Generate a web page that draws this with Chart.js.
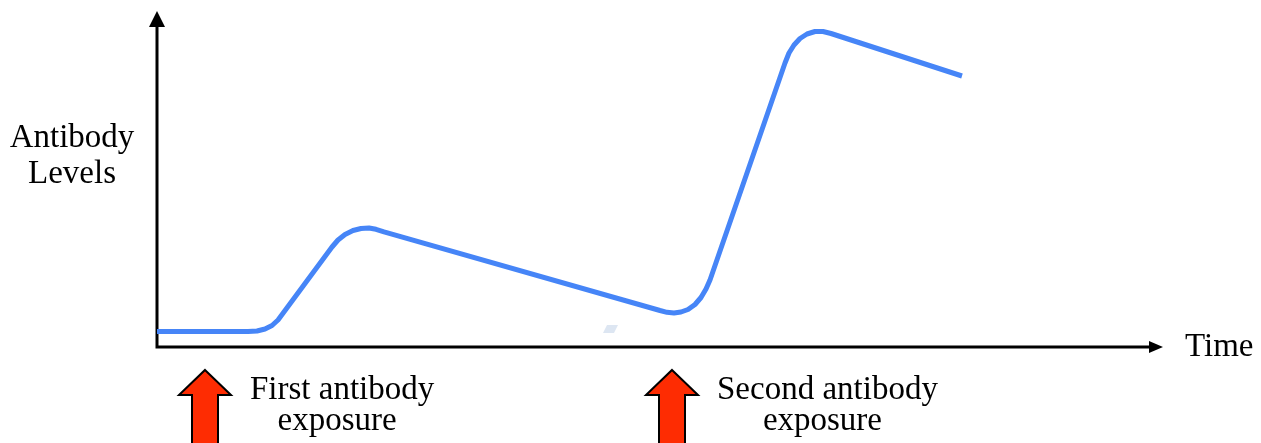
<!DOCTYPE html>
<html>
<head>
<meta charset="utf-8">
<script src="https://cdn.jsdelivr.net/npm/chart.js@4/dist/chart.umd.min.js"></script>
<style>
  html, body { margin: 0; padding: 0; background: #ffffff; }
  #wrap { width: 1261px; height: 443px; position: relative; }
</style>
</head>
<body>
<div id="wrap"><canvas id="c" width="1261" height="443"></canvas></div>
<script>
// Data (arbitrary units)
const timeValues  = [0, 91, 100, 108, 115, 121, 175, 181, 188, 196, 204, 212, 219, 227, 503, 510, 517, 524, 531, 538, 544, 549, 553, 628, 632, 637, 643, 650, 658, 666, 674, 805];
const levelValues = [15.5, 15.5, 16, 18, 21.5, 27, 100, 107, 112.5, 116.5, 118.5, 119, 117.7, 115.2, 36.5, 34.7, 34, 35, 37.5, 42.5, 49.5, 58, 67, 284, 294, 302, 308.5, 313, 315.5, 315.5, 313.5, 271];
const exposureTimes = [48, 515];
const exposureLabels = [["First antibody", "exposure"], ["Second antibody", "exposure"]];
const yAxisTitle = ["Antibody", "Levels"];
const xAxisTitle = "Time";

const FONT = '33px "Liberation Serif", "DejaVu Serif", serif';

const decorPlugin = {
  id: 'decor',
  beforeDatasetsDraw(chart) {
    const ctx = chart.ctx;
    const a = chart.chartArea;
    ctx.save();
    // axes
    ctx.strokeStyle = '#000';
    ctx.fillStyle = '#000';
    ctx.lineWidth = 3;
    ctx.lineCap = 'butt';
    ctx.beginPath();
    ctx.moveTo(a.left, a.bottom + 1.5);
    ctx.lineTo(a.left, a.top + 8);
    ctx.moveTo(a.left - 1.5, a.bottom);
    ctx.lineTo(a.right - 5, a.bottom);
    ctx.stroke();
    // y arrowhead
    ctx.beginPath();
    ctx.moveTo(a.left, a.top - 6);
    ctx.lineTo(a.left - 8, a.top + 10);
    ctx.lineTo(a.left + 8, a.top + 10);
    ctx.closePath();
    ctx.fill();
    // x arrowhead
    ctx.beginPath();
    ctx.moveTo(a.right + 6, a.bottom);
    ctx.lineTo(a.right - 8, a.bottom - 6);
    ctx.lineTo(a.right - 8, a.bottom + 6);
    ctx.closePath();
    ctx.fill();
    // small artifact
    ctx.fillStyle = '#dde6f2';
    ctx.beginPath();
    ctx.moveTo(607, 325); ctx.lineTo(618, 325); ctx.lineTo(614, 333); ctx.lineTo(603, 333);
    ctx.closePath();
    ctx.fill();

    // texts
    ctx.fillStyle = '#000';
    ctx.font = FONT;
    ctx.textBaseline = 'alphabetic';
    ctx.textAlign = 'center';
    ctx.fillText(yAxisTitle[0], 72, 147);
    ctx.fillText(yAxisTitle[1], 72, 183);
    ctx.textAlign = 'left';
    ctx.fillText(xAxisTitle, 1185, 356);

    // exposure arrows and labels
    const xs = chart.scales.x;
    exposureTimes.forEach((t, i) => {
      const cx = xs.getPixelForValue(t);
      ctx.beginPath();
      ctx.moveTo(cx, 370);
      ctx.lineTo(cx + 26, 395);
      ctx.lineTo(cx + 13, 395);
      ctx.lineTo(cx + 13, 446);
      ctx.lineTo(cx - 13, 446);
      ctx.lineTo(cx - 13, 395);
      ctx.lineTo(cx - 26, 395);
      ctx.closePath();
      ctx.fillStyle = '#fe2c02';
      ctx.fill();
      ctx.strokeStyle = '#000';
      ctx.lineWidth = 2;
      ctx.lineJoin = 'miter';
      ctx.stroke();

      ctx.fillStyle = '#000';
      ctx.font = FONT;
      const lines = exposureLabels[i];
      const left = cx + 45;
      const w0 = ctx.measureText(lines[0]).width;
      ctx.textAlign = 'left';
      ctx.fillText(lines[0], left, 399);
      ctx.textAlign = 'center';
      ctx.fillText(lines[1], left + w0 / 2 - 5, 430);
    });
    ctx.restore();
  }
};

new Chart(document.getElementById('c'), {
  type: 'line',
  data: {
    datasets: [{
      data: timeValues.map((t, i) => ({ x: t, y: levelValues[i] })),
      borderColor: '#4685f7',
      borderWidth: 5,
      pointRadius: 0,
      tension: 0,
      fill: false,
      borderCapStyle: 'butt',
      borderJoinStyle: 'round'
    }]
  },
  options: {
    responsive: false,
    animation: false,
    devicePixelRatio: 1,
    layout: { padding: { left: 157, right: 104, top: 17, bottom: 96 } },
    plugins: { legend: { display: false }, tooltip: { enabled: false }, title: { display: false } },
    scales: {
      x: { type: 'linear', min: 0, max: 1000, display: false },
      y: { type: 'linear', min: 0, max: 330, display: false }
    }
  },
  plugins: [decorPlugin]
});
</script>
</body>
</html>
